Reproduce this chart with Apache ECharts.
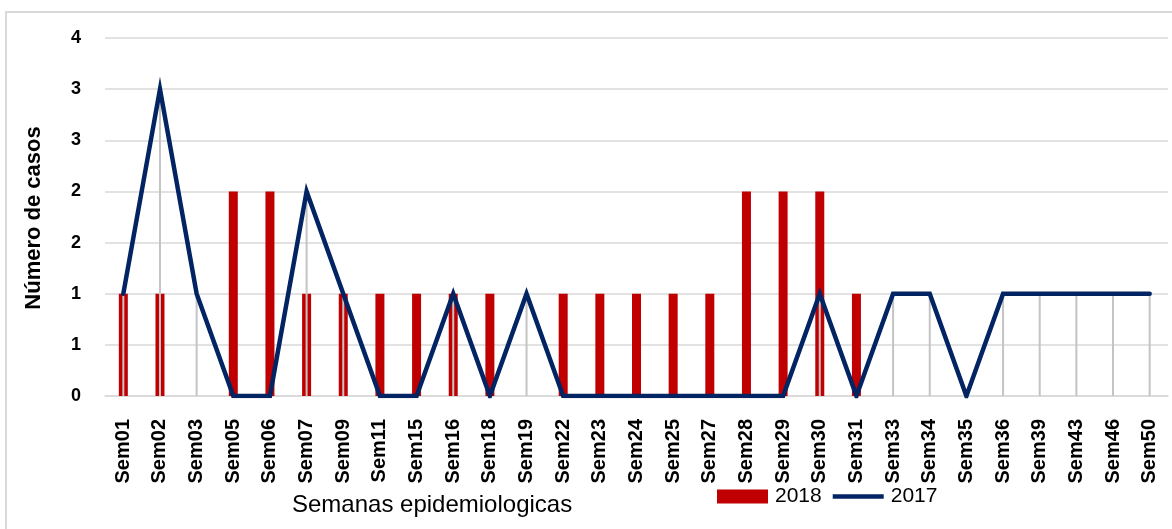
<!DOCTYPE html>
<html>
<head>
<meta charset="utf-8">
<script src="https://cdn.jsdelivr.net/npm/echarts@6/dist/echarts.min.js"></script>
<style>
html,body{margin:0;padding:0;background:#fff;}
#chart{width:1172px;height:529px;}
</style>
</head>
<body>
<div id="chart"></div>
<script>
const categories = ['Sem01','Sem02','Sem03','Sem05','Sem06','Sem07','Sem09','Sem11','Sem15','Sem16','Sem18','Sem19','Sem22','Sem23','Sem24','Sem25','Sem27','Sem28','Sem29','Sem30','Sem31','Sem33','Sem34','Sem35','Sem36','Sem39','Sem43','Sem46','Sem50'];
const values2018 = [1,1,0,2,2,1,1,1,1,1,1,0,1,1,1,1,1,2,2,2,1,0,0,0,0,0,0,0,0];
const values2017 = [1,3,1,0,0,2,1,0,0,1,0,1,0,0,0,0,0,0,0,1,0,1,1,0,1,1,1,1,1];
const seriesNames = ['2018','2017'];
const yAxisTitle = 'Número de casos';
const xAxisTitle = 'Semanas epidemiologicas';

const FONT = 'Liberation Sans';
const NAVY = '#022463';
const chart = echarts.init(document.getElementById('chart'));
chart.setOption({
  animation: false,
  backgroundColor: '#fff',
  textStyle: { fontFamily: FONT },
  grid: { left: 105, right: 4, top: 38, bottom: 133, containLabel: false },
  legend: {
    data: [
      { name: seriesNames[0], icon: 'rect' },
      { name: seriesNames[1], icon: 'path://M0,0H51V4.5H0Z' }
    ],
    symbolKeepAspect: true,
    left: 717, top: 486, padding: 0,
    itemWidth: 51, itemHeight: 14, itemGap: 11,
    textStyle: { fontFamily: FONT, fontSize: 21, color: '#000', padding: [0, 0, 0, 2] }
  },
  graphic: [
    { type: 'rect', silent: true, z: -10, shape: { x: 6, y: 12, width: 1200, height: 600 },
      style: { fill: 'none', stroke: '#d9d9d9', lineWidth: 2 } },
    { type: 'text', x: 34, y: 218, rotation: Math.PI / 2,
      style: { text: yAxisTitle, font: 'bold 22px "Liberation Sans"', fill: '#000', align: 'center', verticalAlign: 'middle' } },
    { type: 'text', x: 292, y: 505,
      style: { text: xAxisTitle, font: '24px "Liberation Sans"', fill: '#000', align: 'left', verticalAlign: 'middle' } }
  ],
  xAxis: {
    type: 'category',
    data: categories,
    boundaryGap: true,
    axisTick: { show: false },
    axisLine: { lineStyle: { color: '#d9d9d9', width: 1.5 } },
    axisLabel: { rotate: 90, margin: 23, interval: 0, fontFamily: FONT, fontSize: 20, fontWeight: 'bold', color: '#000' },
    splitLine: { show: false }
  },
  yAxis: {
    type: 'value',
    min: 0, max: 3.5, interval: 0.5,
    axisLine: { show: false },
    axisTick: { show: false },
    axisLabel: { margin: 24, fontFamily: FONT, fontSize: 18, fontWeight: 'bold', color: '#000',
      formatter: v => String(Math.round(v)) },
    splitLine: { lineStyle: { color: '#d9d9d9', width: 1.5 } }
  },
  series: [
    {
      name: seriesNames[0], type: 'bar', data: values2018, barWidth: 9, z: 2,
      itemStyle: { color: '#C00000' }
    },
    {
      name: 'drop', type: 'custom', z: 3,
      data: categories.map((c, i) => [i, values2017[i]]),
      encode: { x: 0, y: 1 },
      renderItem: function (params, api) {
        const v = api.value(1);
        if (!v) return null;
        const top = api.coord([api.value(0), v]);
        const bot = api.coord([api.value(0), 0]);
        return { type: 'line', shape: { x1: top[0], y1: top[1], x2: bot[0], y2: bot[1] },
          style: { stroke: '#c4c4c4', lineWidth: 2 } };
      }
    },
    {
      name: seriesNames[1], type: 'line', data: values2017, z: 4,
      symbol: 'none', showSymbol: false,
      lineStyle: { color: NAVY, width: 4.5, join: 'miter', miterLimit: 20, cap: 'round' },
      itemStyle: { color: NAVY }
    }
  ]
});
</script>
</body>
</html>
